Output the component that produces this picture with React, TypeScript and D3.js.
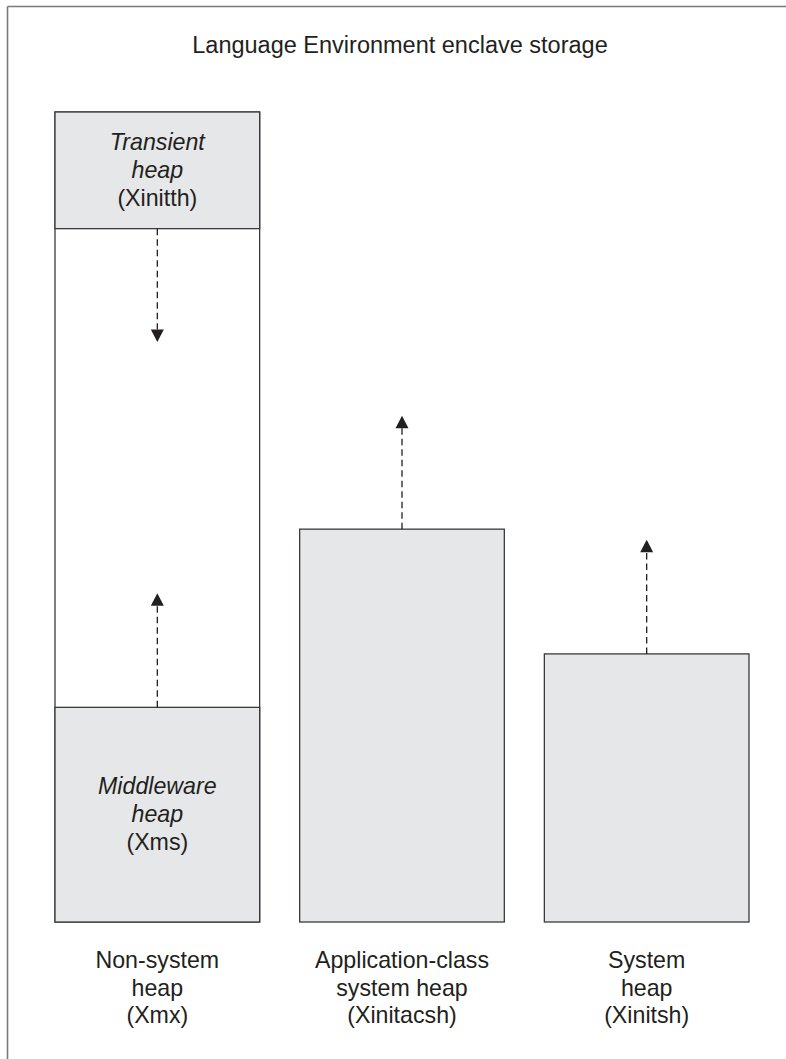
import React from "react";
import * as d3 from "d3";

const W = 786;
const H = 1059;

// categories (bottom labels)
const categories = ["Non-system heap (Xmx)", "Application-class system heap (Xinitacsh)", "System heap (Xinitsh)"];
const categoryLines = [
  ["Non-system", "heap", "(Xmx)"],
  ["Application-class", "system heap", "(Xinitacsh)"],
  ["System", "heap", "(Xinitsh)"],
];
// storage extents (relative units 0..100)
const boxTop = [100, 48.5, 33.1];
// sub-areas inside the non-system heap
const transientBottom = 85.6; // transient heap occupies [transientBottom, 100]
const middlewareTop = 26.5; // middleware heap occupies [0, middlewareTop]
const transientLines = [
  { t: "Transient", italic: true },
  { t: "heap", italic: true },
  { t: "(Xinitth)", italic: false },
];
const middlewareLines = [
  { t: "Middleware", italic: true },
  { t: "heap", italic: true },
  { t: "(Xms)", italic: false },
];
// growth arrows: start value, tip value, category index
const arrows = [
  { cat: 0, from: transientBottom, to: 71.6 },
  { cat: 0, from: middlewareTop, to: 40.6 },
  { cat: 1, from: 48.5, to: 62.5 },
  { cat: 2, from: 33.1, to: 47.2 },
];
const title = "Language Environment enclave storage";

const FONT = "'Liberation Sans', Arial, Helvetica, sans-serif";
const FILL = "#e6e7e8";
const STROKE = "#3a3a3a";
const TEXT = "#231f20";

export default function App() {
  const x = d3.scaleBand<string>().domain(categories).range([55, 749]).paddingInner(0.1636).paddingOuter(0);
  const y = d3.scaleLinear().domain([0, 100]).range([922, 112]);
  const bw = x.bandwidth();
  const lh = 28.2;
  const fs = 23.2;

  return (
    <svg width={W} height={H} style={{ position: "absolute", left: 0, top: 0, background: "#fff" }}>
      {/* frame */}
      <line x1={7.5} y1={6.5} x2={W} y2={6.5} stroke="#7a7a7a" strokeWidth={1.6} />
      <line x1={7.5} y1={6.5} x2={7.5} y2={H} stroke="#7a7a7a" strokeWidth={1.6} />
      <text x={400} y={53} textAnchor="middle" fontFamily={FONT} fontSize={23.5} fill={TEXT}>
        {title}
      </text>

      {categories.map((c, i) => {
        const x0 = x(c)!;
        const cx = x0 + bw / 2;
        return (
          <g key={c}>
            <rect
              x={x0}
              y={y(boxTop[i])}
              width={bw}
              height={y(0) - y(boxTop[i])}
              fill={i === 0 ? "#fff" : FILL}
              stroke={STROKE}
              strokeWidth={1.3}
            />
            {categoryLines[i].map((t, k) => (
              <text key={k} x={cx} y={968 + k * 27.6} textAnchor="middle" fontFamily={FONT} fontSize={fs} fill={TEXT}>
                {t}
              </text>
            ))}
          </g>
        );
      })}

      {/* non-system sub-areas */}
      {(() => {
        const x0 = x(categories[0])!;
        const cx = x0 + bw / 2;
        const tTop = y(100);
        const tBot = y(transientBottom);
        const mTop = y(middlewareTop);
        const mBot = y(0);
        const tMid = (tTop + tBot) / 2;
        const mMid = (mTop + mBot) / 2;
        return (
          <g>
            <rect x={x0} y={tTop} width={bw} height={tBot - tTop} fill={FILL} stroke={STROKE} strokeWidth={1.3} />
            <rect x={x0} y={mTop} width={bw} height={mBot - mTop} fill={FILL} stroke={STROKE} strokeWidth={1.3} />
            {transientLines.map((l, k) => (
              <text
                key={k}
                x={cx}
                y={tMid - lh + 7.5 + k * lh}
                textAnchor="middle"
                fontFamily={FONT}
                fontSize={fs}
                fontStyle={l.italic ? "italic" : "normal"}
                fill={TEXT}
              >
                {l.t}
              </text>
            ))}
            {middlewareLines.map((l, k) => (
              <text
                key={k}
                x={cx}
                y={mMid - lh + 7.5 + k * lh}
                textAnchor="middle"
                fontFamily={FONT}
                fontSize={fs}
                fontStyle={l.italic ? "italic" : "normal"}
                fill={TEXT}
              >
                {l.t}
              </text>
            ))}
          </g>
        );
      })()}

      {arrows.map((a, i) => {
        const cx = x(categories[a.cat])! + bw / 2;
        const y0 = y(a.from);
        const tip = y(a.to);
        const dir = tip < y0 ? -1 : 1;
        const ah = 12.5;
        const hw = 6.5;
        const base = tip - dir * ah;
        return (
          <g key={i}>
            <line x1={cx} y1={y0} x2={cx} y2={base} stroke={TEXT} strokeWidth={1.3} strokeDasharray="6.5,4" />
            <path d={`M${cx},${tip}L${cx - hw},${base}L${cx + hw},${base}Z`} fill={TEXT} />
          </g>
        );
      })}
    </svg>
  );
}
